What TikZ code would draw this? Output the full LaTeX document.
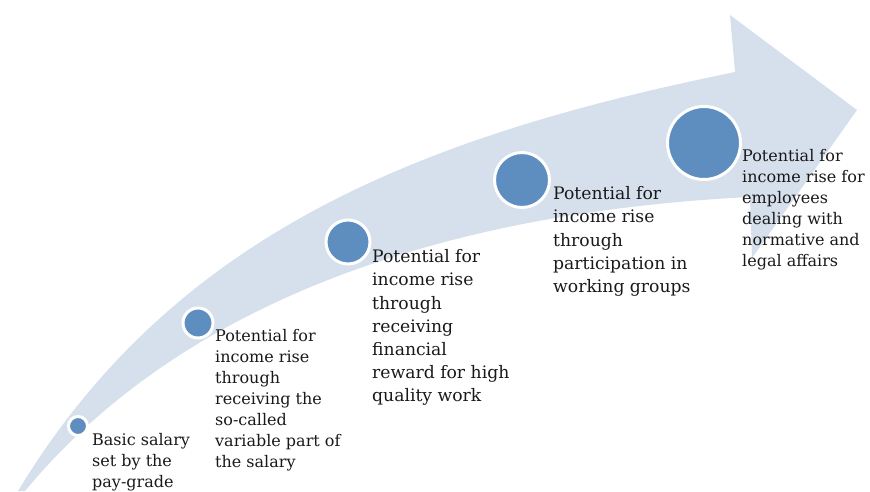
\documentclass[tikz,border=0pt]{standalone}
\usepackage{fontspec}
\newfontfamily\lblfont{DejaVu Serif}
\definecolor{arrowFill}{RGB}{214,224,236}
\definecolor{dotBlue}{RGB}{94,142,192}
\definecolor{lblText}{RGB}{25,25,25}

\begin{document}
\begin{tikzpicture}[x=1pt,y=-1pt,
    dot/.style={circle, fill=dotBlue, draw=white, line width=3pt, inner sep=0pt, minimum size=#1},
    lbl/.style={anchor=north west, inner sep=0pt, align=left, text=lblText,
      font=\lblfont\fontsize{16}{21}\selectfont},
    biglbl/.style={lbl, font=\lblfont\fontsize{17.2}{23.2}\selectfont}]
  \useasboundingbox (0,0) rectangle (870,491);

  % curved arrow, tail at bottom left
  \fill[arrowFill] (18,491) .. controls (174,233) and (421,136) .. (735,72)
    -- (730,15) -- (857,110) -- (752,258) -- (750,197)
    .. controls (450,212) and (185,298) .. (25,491) -- cycle;

  % steps along the arrow
  \node[dot=19pt] (s1) at (78,426) {};
  \node[dot=30pt] (s2) at (198,323) {};
  \node[dot=44pt] (s3) at (348,242) {};
  \node[dot=55pt] (s4) at (522,180) {};
  \node[dot=73pt] (s5) at (704,143) {};

  % labels
  \node[lbl] (t1) at (92,433) {Basic salary\\set by the\\pay-grade};
  \node[lbl] (t2) at (215,329.5) {Potential for\\income rise\\through\\receiving the\\so-called\\variable part of\\the salary};
  \node[biglbl] (t3) at (372,249.5) {Potential for\\income rise\\through\\receiving\\financial\\reward for high\\quality work};
  \node[biglbl] (t4) at (553,186.5) {Potential for\\income rise\\through\\participation in\\working groups};
  \node[lbl] (t5) at (742,149.5) {Potential for\\income rise for\\employees\\dealing with\\normative and\\legal affairs};
\end{tikzpicture}
\end{document}
